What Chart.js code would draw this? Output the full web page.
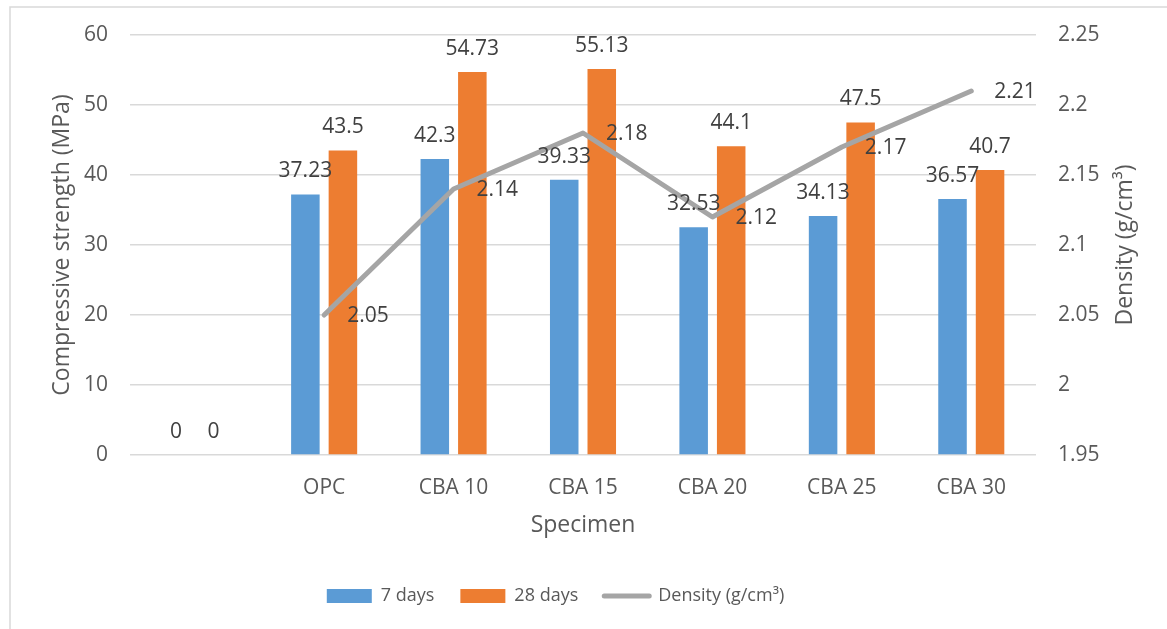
<!DOCTYPE html>
<html>
<head>
<meta charset="utf-8">
<title>Compressive strength and density</title>
<script src="https://cdn.jsdelivr.net/npm/chart.js@4.4.1/dist/chart.umd.min.js"></script>
<style>
  html, body { margin: 0; padding: 0; background: #ffffff; }
  canvas { display: block; }
</style>
</head>
<body>
<canvas id="myChart" width="1167" height="629"></canvas>
<script>
const categories = ['', 'OPC', 'CBA 10', 'CBA 15', 'CBA 20', 'CBA 25', 'CBA 30'];
const days7 = [0, 37.23, 42.3, 39.33, 32.53, 34.13, 36.57];
const days28 = [0, 43.5, 54.73, 55.13, 44.1, 47.5, 40.7];
const density = [null, 2.05, 2.14, 2.18, 2.12, 2.17, 2.21];

const strengthTicks = ['0', '10', '20', '30', '40', '50', '60'];
const densityTicks = ['1.95', '2', '2.05', '2.1', '2.15', '2.2', '2.25'];

const FONT = "'Open Sans', 'Noto Sans', sans-serif";
const tickColor = '#595959';
const labelColor = '#404040';

// light frame round the chart, cropped at right and bottom like the picture
const framePlugin = {
  id: 'frame',
  beforeDraw(chart) {
    const ctx = chart.ctx;
    ctx.save();
    ctx.strokeStyle = '#d9d9d9';
    ctx.lineWidth = 1.5;
    ctx.strokeRect(10, 7, 2000, 2000);
    ctx.restore();
  }
};

// legend sits a little left of the canvas centre in the picture
const legendShift = {
  id: 'legendShift',
  afterLayout(chart) {
    if (!chart.legend) return;
    chart.legend.left -= 28;
    chart.legend.right -= 28;
  }
};

// value labels: above the bars, right of the density points
const valueLabels = {
  id: 'valueLabels',
  afterDatasetsDraw(chart) {
    const ctx = chart.ctx;
    ctx.save();
    ctx.font = '21px ' + FONT;
    ctx.fillStyle = labelColor;
    ctx.textBaseline = 'middle';
    chart.data.datasets.forEach((ds, i) => {
      const meta = chart.getDatasetMeta(i);
      meta.data.forEach((el, j) => {
        const v = ds.data[j];
        if (v === null || v === undefined) return;
        if (ds.type === 'line') {
          ctx.textAlign = 'left';
          ctx.fillText(String(v), el.x + 23, el.y + 1);
        } else {
          ctx.textAlign = 'center';
          ctx.fillText(String(v), el.x, el.y - 23);
        }
      });
    });
    ctx.restore();
  }
};

// right axis title reads bottom to top in the picture
const rightTitle = {
  id: 'rightTitle',
  afterDraw(chart) {
    const ctx = chart.ctx;
    const area = chart.chartArea;
    ctx.save();
    ctx.translate(1125, (area.top + area.bottom) / 2);
    ctx.rotate(-Math.PI / 2);
    ctx.font = '23px ' + FONT;
    ctx.fillStyle = tickColor;
    ctx.textAlign = 'center';
    ctx.textBaseline = 'middle';
    ctx.fillText('Density (g/cm³)', 0, 0);
    ctx.restore();
  }
};

function noPad(scale) {
  scale.paddingTop = 0;
  scale.paddingBottom = 0;
  scale.paddingLeft = 0;
  scale.paddingRight = 0;
}

const myChart = document.getElementById('myChart');

const chart = new Chart(myChart, {
  data: {
    labels: categories,
    datasets: [
      {
        type: 'bar',
        label: '7 days',
        data: days7,
        backgroundColor: '#5b9bd5',
        borderWidth: 0,
        yAxisID: 'y',
        order: 1,
        categoryPercentage: 0.58,
        barPercentage: 0.76
      },
      {
        type: 'bar',
        label: '28 days',
        data: days28,
        backgroundColor: '#ed7d31',
        borderWidth: 0,
        yAxisID: 'y',
        order: 1,
        categoryPercentage: 0.58,
        barPercentage: 0.76
      },
      {
        type: 'line',
        label: 'Density (g/cm³)',
        data: density,
        borderColor: '#a5a5a5',
        backgroundColor: '#a5a5a5',
        borderWidth: 5,
        borderCapStyle: 'round',
        borderJoinStyle: 'round',
        pointRadius: 0,
        tension: 0,
        fill: false,
        yAxisID: 'y1',
        order: 0
      }
    ]
  },
  options: {
    responsive: false,
    animation: false,
    layout: { padding: { left: 0, right: 0, top: 35, bottom: 14 } },
    plugins: {
      tooltip: { enabled: false },
      legend: {
        position: 'bottom',
        labels: {
          font: { family: FONT, size: 18 },
          color: tickColor,
          usePointStyle: true,
          pointStyleWidth: 45,
          boxHeight: 14,
          padding: 26,
          generateLabels(c) {
            const items = Chart.defaults.plugins.legend.labels.generateLabels(c);
            items.sort((a, b) => a.datasetIndex - b.datasetIndex);
            items.forEach((it) => {
              const ds = c.data.datasets[it.datasetIndex];
              it.pointStyle = ds.type === 'line' ? 'line' : 'rect';
              if (ds.type === 'line') it.lineCap = 'round';
            });
            return items;
          }
        }
      }
    },
    scales: {
      x: {
        grid: { display: false },
        border: { display: false },
        ticks: { font: { family: FONT, size: 21 }, color: tickColor, padding: 12 },
        title: {
          display: true,
          text: 'Specimen',
          font: { family: FONT, size: 23 },
          color: tickColor,
          padding: { top: 0, bottom: 21.6 }
        },
        afterFit(scale) {
          scale.height = 106;
          noPad(scale);
        }
      },
      y: {
        position: 'left',
        min: 0,
        max: 60,
        grid: { color: '#d9d9d9', lineWidth: 1.5, drawTicks: false },
        border: { display: false },
        ticks: {
          stepSize: 10,
          font: { family: FONT, size: 21 },
          color: tickColor,
          padding: 22,
          callback: (v, i) => strengthTicks[i]
        },
        title: {
          display: true,
          text: 'Compressive strength (MPa)',
          font: { family: FONT, size: 23 },
          color: tickColor,
          padding: { top: 49, bottom: 0 }
        },
        afterFit(scale) {
          scale.width = 130;
          noPad(scale);
        }
      },
      y1: {
        position: 'right',
        min: 1.95,
        max: 2.25,
        grid: { display: false, drawTicks: false },
        border: { display: false },
        ticks: {
          stepSize: 0.05,
          font: { family: FONT, size: 21 },
          color: tickColor,
          padding: 22,
          callback: (v, i) => densityTicks[i]
        },
        afterFit(scale) {
          scale.width = 131;
          noPad(scale);
        }
      }
    }
  },
  plugins: [framePlugin, legendShift, valueLabels, rightTitle]
});
</script>
</body>
</html>
